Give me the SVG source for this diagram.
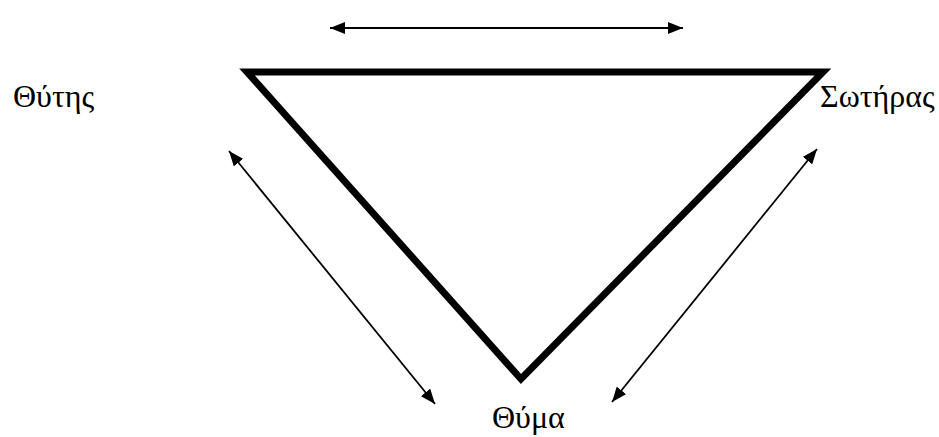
<svg xmlns="http://www.w3.org/2000/svg" width="939" height="437" viewBox="0 0 939 437">
<style>
.lbl{font-family:"Liberation Serif","Times New Roman",serif;font-size:32px;fill:#000}
.tri{fill:none;stroke:#000;stroke-width:7;stroke-linejoin:miter;stroke-miterlimit:10}
.arr{stroke:#000;stroke-width:1.8;fill:none;marker-start:url(#ah);marker-end:url(#ah)}
</style>
<defs>
<marker id="ah" viewBox="0 0 15 12" refX="15" refY="6" markerWidth="15" markerHeight="12" markerUnits="userSpaceOnUse" orient="auto-start-reverse">
<path d="M0,0 L15,6 L0,12 z" fill="#000"/>
</marker>
</defs>
<rect width="939" height="437" fill="#fff"/>
<g id="triangle">
<polygon class="tri" points="247,72 823,72 521,379"/>
</g>
<g id="connectors">
<line class="arr" x1="330" y1="28" x2="683" y2="28"/>
<line class="arr" x1="229" y1="151" x2="435" y2="404"/>
<line class="arr" x1="817" y1="149" x2="612" y2="402"/>
</g>
<g id="node-thytis"><text class="lbl" x="13" y="107">Θύτης</text></g>
<g id="node-sotiras"><text class="lbl" x="820" y="107">Σωτήρας</text></g>
<g id="node-thyma"><text class="lbl" x="492" y="428">Θύμα</text></g>
</svg>
